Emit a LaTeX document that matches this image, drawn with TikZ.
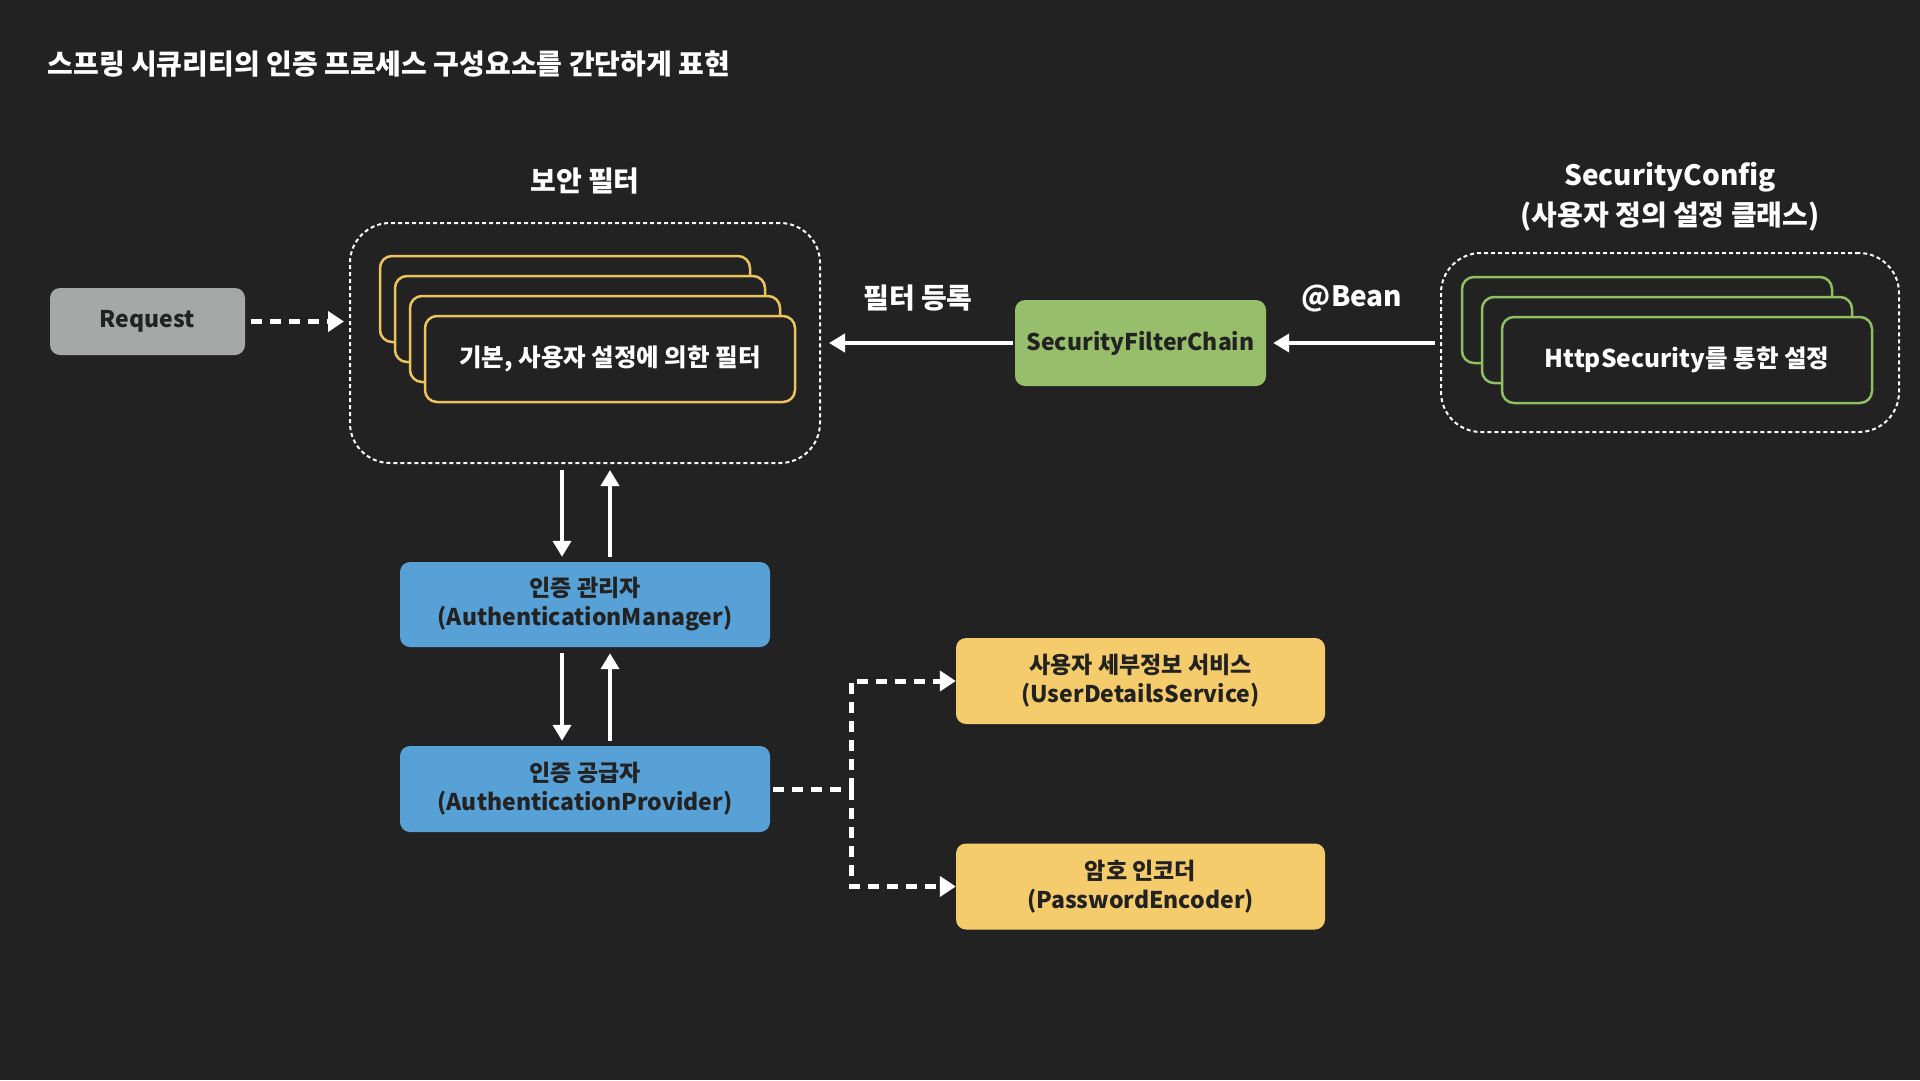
\documentclass[tikz,border=0pt]{standalone}
\usepackage{fontspec}
\setmainfont{Noto Sans CJK KR}
\usetikzlibrary{arrows.meta}
\definecolor{bgdark}{HTML}{222222}
\definecolor{reqgrey}{HTML}{A6A7A7}
\definecolor{chaingreen}{HTML}{97BE6A}
\definecolor{authblue}{HTML}{58A1D6}
\definecolor{infoyellow}{HTML}{F5CC6C}
\definecolor{filteryellow}{HTML}{EDC35E}
\definecolor{configgreen}{HTML}{8EBF63}
\newcommand\boxfnt{\fontsize{23}{29}\selectfont\bfseries}
\newcommand\headfnt{\fontsize{28}{40}\selectfont\bfseries}
\begin{document}
\begin{tikzpicture}[x=1pt,y=-1pt,
    solidbox/.style={rounded corners=10pt,minimum width=370pt,minimum height=86pt,inner sep=0pt,text=bgdark,font=\boxfnt,align=center},
    stackbox/.style={draw=#1,line width=2.5pt,fill=bgdark,rounded corners=12pt,minimum width=370pt,minimum height=86pt,inner sep=0pt,text=white,font=\fontsize{24.5}{29}\selectfont\bfseries},
    framebox/.style={draw=white,line width=2pt,dash pattern=on 4pt off 3pt,rounded corners=40pt,inner sep=0pt},
    flow/.style={draw=white,line width=4pt,-{Triangle[width=18pt,length=16pt]}},
    dashflow/.style={draw=white,line width=5pt,dash pattern=on 11pt off 8pt},
    heading/.style={text=white,font=\headfnt,align=center}]
  \fill[bgdark] (0,0) rectangle (1920,1080);
  \node[anchor=west,text=white,font=\fontsize{28}{32}\selectfont\bfseries] (title) at (44,64) {스프링 시큐리티의 인증 프로세스 구성요소를 간단하게 표현};

  % security filters
  \node[framebox,minimum width=470pt,minimum height=240pt] (filters) at (585,343) {};
  \node[heading] (filterhead) at (585,181) {보안 필터};
  \foreach \i in {0,1,2} {
    \node[stackbox=filteryellow] (fback\i) at (565+15*\i,299+20*\i) {};
  }
  \node[stackbox=filteryellow] (filterfront) at (610,359) {기본, 사용자 설정에 의한 필터};

  \node[solidbox,fill=reqgrey,minimum width=195pt,minimum height=67pt] (request) at (147.5,321.5) {Request};
  \draw[dashflow,-{Triangle[width=20pt,length=16pt]},shorten <=6pt,shorten >=5pt] (request) -- (request -| filters.west);

  % security config
  \node[framebox,minimum width=458pt,minimum height=179pt] (config) at (1670,342.5) {};
  \node[heading] (confighead) at (1670,197) {SecurityConfig\\(사용자 정의 설정 클래스)};
  \foreach \i in {0,1} {
    \node[stackbox=configgreen] (cback\i) at (1647+20*\i,320+20*\i) {};
  }
  \node[stackbox=configgreen] (configfront) at (1687,360) {HttpSecurity를 통한 설정};

  \node[solidbox,fill=chaingreen,minimum width=251pt] (chain) at (1140.5,343) {SecurityFilterChain};
  \draw[flow,shorten <=5pt,shorten >=7pt] (config.west |- chain) -- (chain);
  \draw[flow,shorten <=2pt,shorten >=8pt] (chain) -- (filters.east |- chain);
  \node[heading] (reglabel) at (918,298) {필터 등록};
  \node[heading] (beanlabel) at (1352,299) {@Bean};

  % authentication
  \node[solidbox,fill=authblue,minimum height=85pt] (manager) at (585,604.5) {인증 관리자\\(AuthenticationManager)};
  \node[solidbox,fill=authblue] (provider) at (585,789) {인증 공급자\\(AuthenticationProvider)};
  \draw[flow,shorten <=6pt,shorten >=5pt] ([xshift=-23pt]filters.south) -- ([xshift=-23pt]manager.north);
  \draw[flow,shorten <=5pt,shorten >=6pt] ([xshift=25pt]manager.north) -- ([xshift=25pt]filters.south);
  \draw[flow,shorten <=6pt,shorten >=5pt] ([xshift=-23pt]manager.south) -- ([xshift=-23pt]provider.north);
  \draw[flow,shorten <=5pt,shorten >=6pt] ([xshift=25pt]provider.north) -- ([xshift=25pt]manager.south);

  \node[solidbox,fill=infoyellow,minimum width=369pt] (userdetails) at (1140.5,681) {사용자 세부정보 서비스\\(UserDetailsService)};
  \node[solidbox,fill=infoyellow,minimum width=369pt] (encoder) at (1140.5,886.5) {암호 인코더\\(PasswordEncoder)};
  \coordinate (fork) at (851,789);
  \draw[dashflow,shorten <=3pt] (provider.east) -- (fork);
  \draw[dashflow,-{Triangle[width=20pt,length=16pt]}] (fork) |- (userdetails.west);
  \draw[dashflow,-{Triangle[width=20pt,length=16pt]}] (fork) |- (encoder.west);
\end{tikzpicture}
\end{document}
